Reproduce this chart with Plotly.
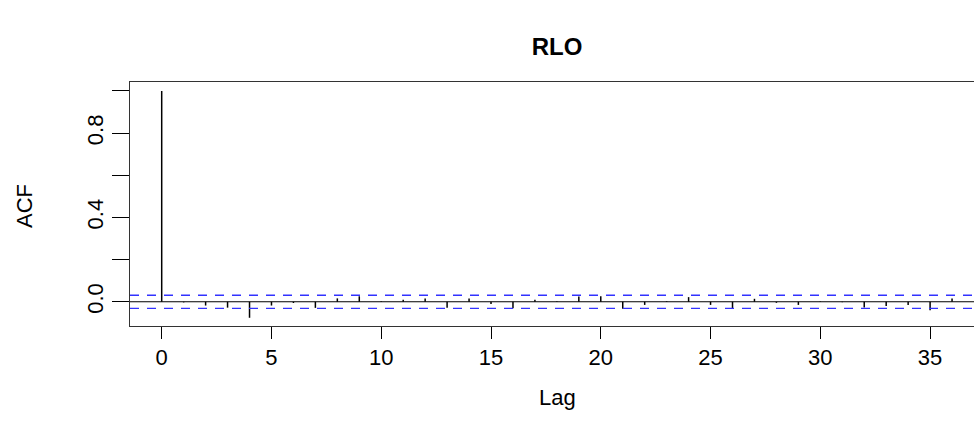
import plotly.graph_objects as go

# ---- data ----
lags = list(range(0, 37))
acf_values = [1.0, -0.003, -0.018, -0.028, -0.076, -0.018, -0.006, -0.029, 0.016, 0.026,
              0.003, 0.009, 0.016, -0.028, 0.016, -0.011, -0.031, 0.010, 0.003, 0.025,
              0.026, -0.033, -0.015, 0.003, 0.022, -0.015, -0.034, 0.014, -0.005, -0.015,
              0.002, -0.002, -0.027, -0.020, -0.015, -0.040, 0.016]
conf_limit = 0.031
title_text = "RLO"
x_label = "Lag"
y_label = "ACF"
x_ticks = [0, 5, 10, 15, 20, 25, 30, 35]
y_ticks = [0.0, 0.2, 0.4, 0.6, 0.8, 1.0]
y_tick_labels = ["0.0", "", "0.4", "", "0.8", ""]

FONT = "Liberation Sans, Arial, sans-serif"

bx, by = [], []
for k, v in zip(lags, acf_values):
    bx += [k, k, None]
    by += [0, v, None]

fig = go.Figure()
fig.add_trace(go.Scatter(x=bx, y=by, mode="lines",
                         line=dict(color="black", width=1.5),
                         hoverinfo="skip", showlegend=False))

# zero line and confidence bands
fig.add_hline(y=0, line=dict(color="black", width=1))
for c in (conf_limit, -conf_limit):
    fig.add_hline(y=c, line=dict(color="rgb(50,50,255)", width=1.3, dash="9px,8px"))

fig.update_layout(
    width=974, height=434,
    margin=dict(l=130, r=0, t=82, b=108),
    paper_bgcolor="white", plot_bgcolor="white",
    font=dict(family=FONT, size=22, color="black"),
    title=dict(text=f"<b>{title_text}</b>", xref="container", yref="container",
               x=557 / 974, y=1 - 47 / 434, xanchor="center", yanchor="middle",
               font=dict(family=FONT, size=24, color="black")),
    showlegend=False,
)

fig.update_xaxes(range=[-1.444, 37.0], tickmode="array", tickvals=x_ticks,
                 ticktext=[str(t) for t in x_ticks],
                 showgrid=False, zeroline=False,
                 showline=True, linecolor="#333", linewidth=1, mirror=True,
                 ticks="outside", ticklen=12, tickcolor="black", tickwidth=1,
                 tickfont=dict(family=FONT, size=22, color="black"))
fig.update_yaxes(range=[-0.115, 1.0426], tickmode="array", tickvals=y_ticks,
                 ticktext=y_tick_labels, tickangle=-90,
                 showgrid=False, zeroline=False,
                 showline=True, linecolor="#333", linewidth=1,
                 ticks="outside", ticklen=17, tickcolor="black", tickwidth=1,
                 tickfont=dict(family=FONT, size=22, color="black"))

fig.add_annotation(text=x_label, xref="paper", yref="paper",
                   x=(557 - 130) / 844, y=(326 - 397) / 244,
                   xanchor="center", yanchor="middle", showarrow=False,
                   font=dict(family=FONT, size=22, color="black"))
fig.add_annotation(text=y_label, xref="paper", yref="paper",
                   x=(24 - 130) / 844, y=(326 - 206) / 244, textangle=-90,
                   xanchor="center", yanchor="middle", showarrow=False,
                   font=dict(family=FONT, size=22, color="black"))

fig.write_html("out.html",
               config={"displayModeBar": False},
               post_script="document.body.style.margin='0';document.body.style.padding='0';")
